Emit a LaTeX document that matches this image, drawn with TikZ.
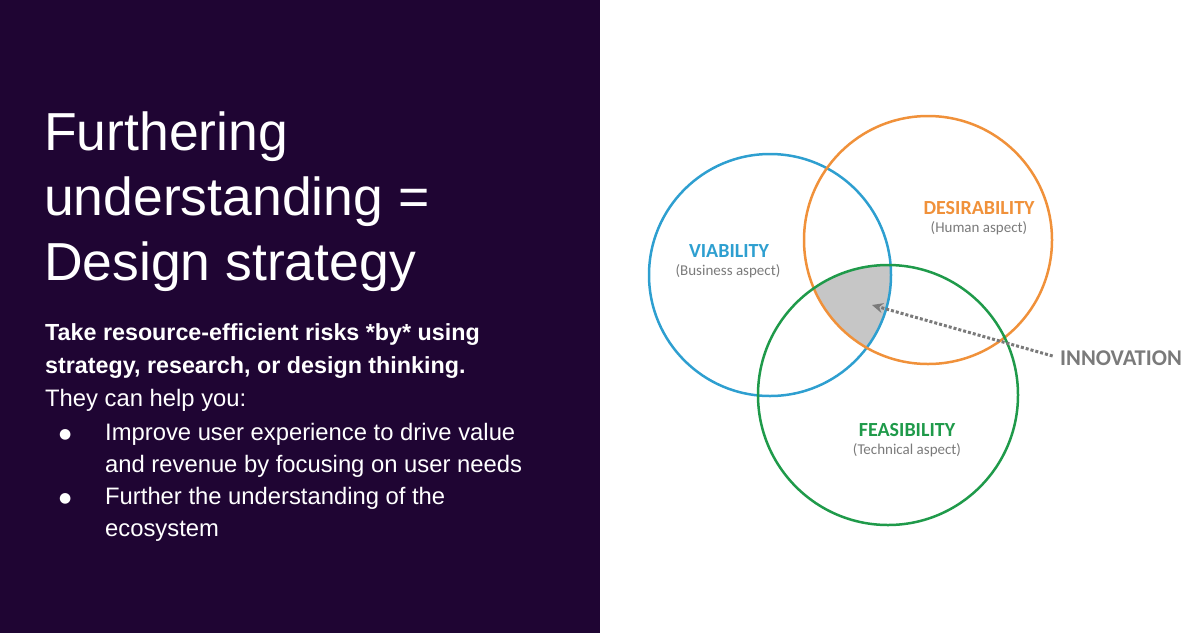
\documentclass[tikz,border=0pt]{standalone}
\usepackage{fontspec}
\setmainfont{Liberation Sans}
\newfontfamily\carl{Carlito}
\newfontfamily\djvfont{DejaVu Sans}
\usetikzlibrary{arrows.meta}
\definecolor{bgp}{HTML}{1F0533}
\definecolor{cblue}{HTML}{2E9FD0}
\definecolor{corange}{HTML}{F0913A}
\definecolor{cgreen}{HTML}{1F9A4A}
\definecolor{cgray}{HTML}{7A7A7A}
\begin{document}
\begin{tikzpicture}[x=1pt,y=-1pt,
  ring/.style={line width=2.5pt},
  lab/.style={font=\carl\bfseries\fontsize{20}{22}\selectfont},
  sub/.style={font=\carl\fontsize{15}{17}\selectfont,text=cgray},
  tt/.style={anchor=base west,inner sep=0pt,text=white,font=\fontsize{53.5}{62}\selectfont},
  body/.style={anchor=base west,inner sep=0pt,text=white,font=\fontsize{23.8}{26}\selectfont},
  bold/.style={body,font=\bfseries\fontsize{23.3}{26}\selectfont},
  dot/.style={body,font=\djvfont\fontsize{14}{16}\selectfont}]
\useasboundingbox (0,0) rectangle (1200,633);
\fill[bgp] (0,0) rectangle (600,633);
\node[tt] (title) at (44,150) {Furthering};
\node[tt] (t2) at (44,215) {understanding =};
\node[tt] (t3) at (44,280) {Design strategy};
\node[bold] (b1) at (45,340) {Take resource-efficient risks *by* using};
\node[bold] (b2) at (45,373) {strategy, research, or design thinking.};
\node[body] (b3) at (45,406) {They can help you:};
\node[dot] (d1) at (59,438) {●};
\node[body] (l1) at (105,440) {Improve user experience to drive value};
\node[body] (l2) at (105,472) {and revenue by focusing on user needs};
\node[dot] (d2) at (59,502) {●};
\node[body] (l3) at (105,504) {Further the understanding of the};
\node[body] (l4) at (105,536) {ecosystem};
% intersection
\begin{scope}
\clip (770,275) circle (121);
\clip (928,240) circle (124);
\fill[gray!45] (888,395) circle (130);
\end{scope}
\draw[ring,cblue] (770,275) circle (121);
\draw[ring,corange] (928,240) circle (124);
\draw[ring,cgreen] (888,395) circle (130);
\node[lab,text=cblue] (v) at (729,251) {VIABILITY};
\node[sub] (vs) at (728,271) {(Business aspect)};
\node[lab,text=corange] (ds) at (979,208) {DESIRABILITY};
\node[sub] (dss) at (979,228) {(Human aspect)};
\node[lab,text=cgreen] (f) at (907,430) {FEASIBILITY};
\node[sub] (fs) at (907,450) {(Technical aspect)};
\node[font=\carl\bfseries\fontsize{22.5}{24}\selectfont,text=cgray] (inn) at (1121,358) {INNOVATION};
\coordinate (tip) at (872,305);
\draw[cgray,line width=3pt,dotted,-{Stealth[length=11pt,width=10pt,open]}] (inn.west) ++(-4,-2) -- (tip);
\end{tikzpicture}
\end{document}
